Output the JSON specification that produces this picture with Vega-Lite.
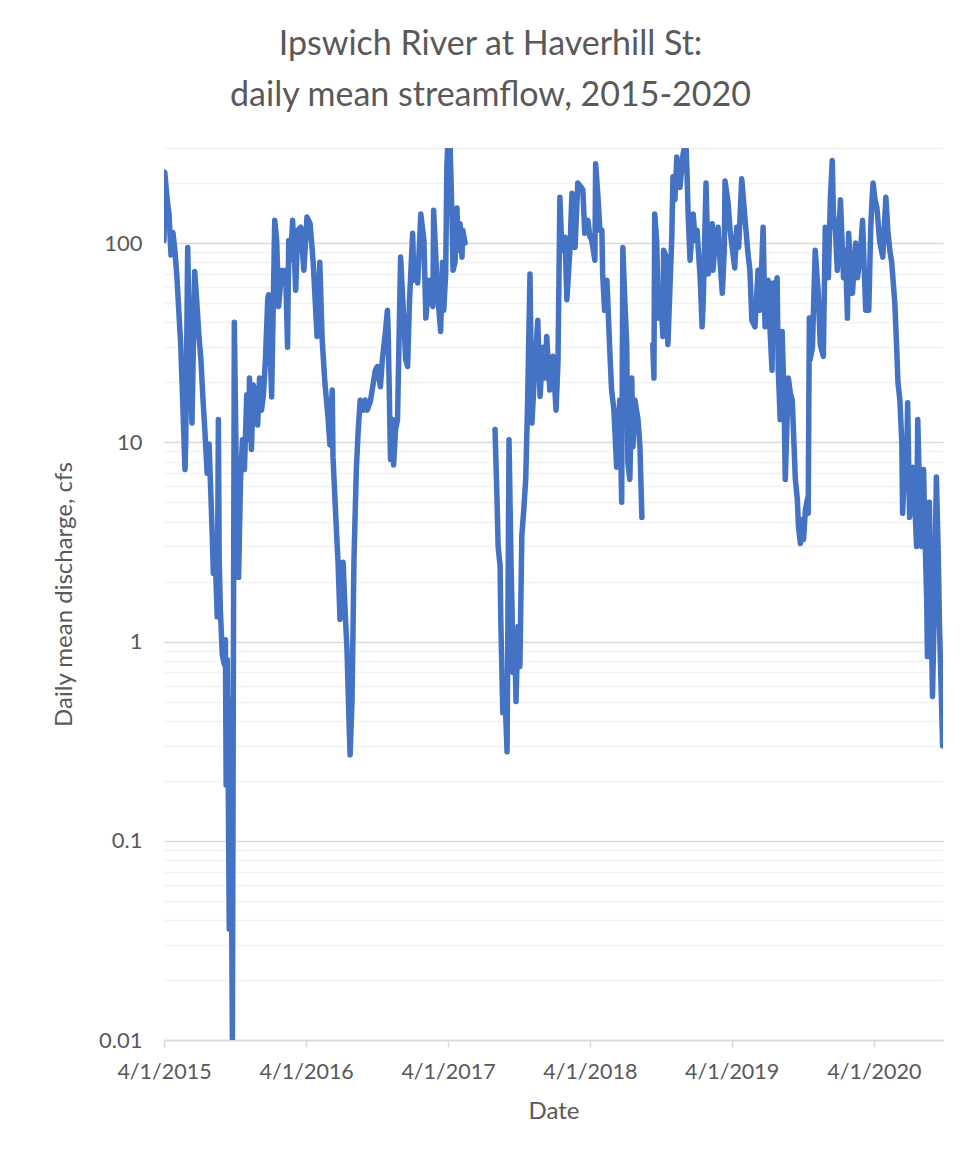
{
  "$schema": "https://vega.github.io/schema/vega-lite/v6.json",
  "autosize": {"type": "none"},
  "width": 779,
  "height": 892,
  "padding": {"left": 164, "top": 148, "right": 31, "bottom": 111},
  "background": "white",
  "title": {
    "text": ["Ipswich River at Haverhill St:", "daily mean streamflow, 2015-2020"],
    "font": "Lato",
    "fontSize": 34,
    "fontWeight": "normal",
    "color": "#595959",
    "anchor": "middle",
    "dx": -63,
    "lineHeight": 51,
    "offset": 24
  },
  "config": {
    "font": "Lato",
    "view": {"stroke": null}
  },
  "data": {
    "values": [
      {"date": "2015-04-01", "cfs": 103, "s": 1},
      {"date": "2015-04-03", "cfs": 227, "s": 1},
      {"date": "2015-04-08", "cfs": 174, "s": 1},
      {"date": "2015-04-14", "cfs": 138, "s": 1},
      {"date": "2015-04-19", "cfs": 87, "s": 1},
      {"date": "2015-04-24", "cfs": 113, "s": 1},
      {"date": "2015-04-29", "cfs": 92, "s": 1},
      {"date": "2015-05-04", "cfs": 69, "s": 1},
      {"date": "2015-05-09", "cfs": 46, "s": 1},
      {"date": "2015-05-14", "cfs": 31, "s": 1},
      {"date": "2015-05-19", "cfs": 16.3, "s": 1},
      {"date": "2015-05-25", "cfs": 7.3, "s": 1},
      {"date": "2015-05-27", "cfs": 10.3, "s": 1},
      {"date": "2015-06-01", "cfs": 95, "s": 1},
      {"date": "2015-06-06", "cfs": 29, "s": 1},
      {"date": "2015-06-12", "cfs": 12.5, "s": 1},
      {"date": "2015-06-19", "cfs": 72, "s": 1},
      {"date": "2015-06-24", "cfs": 52, "s": 1},
      {"date": "2015-06-30", "cfs": 34, "s": 1},
      {"date": "2015-07-05", "cfs": 26, "s": 1},
      {"date": "2015-07-10", "cfs": 16.9, "s": 1},
      {"date": "2015-07-15", "cfs": 11.6, "s": 1},
      {"date": "2015-07-21", "cfs": 7.0, "s": 1},
      {"date": "2015-07-26", "cfs": 9.8, "s": 1},
      {"date": "2015-07-31", "cfs": 5.2, "s": 1},
      {"date": "2015-08-03", "cfs": 3.5, "s": 1},
      {"date": "2015-08-06", "cfs": 2.2, "s": 1},
      {"date": "2015-08-11", "cfs": 2.6, "s": 1},
      {"date": "2015-08-16", "cfs": 1.33, "s": 1},
      {"date": "2015-08-19", "cfs": 13, "s": 1},
      {"date": "2015-08-21", "cfs": 2.6, "s": 1},
      {"date": "2015-08-24", "cfs": 1.45, "s": 1},
      {"date": "2015-08-29", "cfs": 0.86, "s": 1},
      {"date": "2015-09-03", "cfs": 0.77, "s": 1},
      {"date": "2015-09-06", "cfs": 1.02, "s": 1},
      {"date": "2015-09-08", "cfs": 0.19, "s": 1},
      {"date": "2015-09-11", "cfs": 0.81, "s": 1},
      {"date": "2015-09-16", "cfs": 0.036, "s": 1},
      {"date": "2015-09-19", "cfs": 0.51, "s": 1},
      {"date": "2015-09-24", "cfs": 0.01, "s": 1},
      {"date": "2015-09-29", "cfs": 40, "s": 1},
      {"date": "2015-10-04", "cfs": 7.3, "s": 1},
      {"date": "2015-10-10", "cfs": 2.1, "s": 1},
      {"date": "2015-10-15", "cfs": 6.5, "s": 1},
      {"date": "2015-10-20", "cfs": 10.3, "s": 1},
      {"date": "2015-10-25", "cfs": 7.3, "s": 1},
      {"date": "2015-10-31", "cfs": 17.3, "s": 1},
      {"date": "2015-11-05", "cfs": 10.3, "s": 1},
      {"date": "2015-11-07", "cfs": 21, "s": 1},
      {"date": "2015-11-12", "cfs": 9.2, "s": 1},
      {"date": "2015-11-17", "cfs": 19.4, "s": 1},
      {"date": "2015-11-22", "cfs": 17.3, "s": 1},
      {"date": "2015-11-28", "cfs": 12.2, "s": 1},
      {"date": "2015-12-03", "cfs": 21, "s": 1},
      {"date": "2015-12-08", "cfs": 14.5, "s": 1},
      {"date": "2015-12-13", "cfs": 17.3, "s": 1},
      {"date": "2015-12-18", "cfs": 26, "s": 1},
      {"date": "2015-12-24", "cfs": 52, "s": 1},
      {"date": "2015-12-26", "cfs": 55, "s": 1},
      {"date": "2016-01-03", "cfs": 16.9, "s": 1},
      {"date": "2016-01-11", "cfs": 130, "s": 1},
      {"date": "2016-01-16", "cfs": 103, "s": 1},
      {"date": "2016-01-21", "cfs": 48, "s": 1},
      {"date": "2016-01-29", "cfs": 73, "s": 1},
      {"date": "2016-02-03", "cfs": 63, "s": 1},
      {"date": "2016-02-08", "cfs": 73, "s": 1},
      {"date": "2016-02-13", "cfs": 30, "s": 1},
      {"date": "2016-02-16", "cfs": 103, "s": 1},
      {"date": "2016-02-21", "cfs": 82, "s": 1},
      {"date": "2016-02-26", "cfs": 130, "s": 1},
      {"date": "2016-03-05", "cfs": 58, "s": 1},
      {"date": "2016-03-10", "cfs": 116, "s": 1},
      {"date": "2016-03-18", "cfs": 120, "s": 1},
      {"date": "2016-03-26", "cfs": 73, "s": 1},
      {"date": "2016-04-03", "cfs": 135, "s": 1},
      {"date": "2016-04-11", "cfs": 125, "s": 1},
      {"date": "2016-04-19", "cfs": 80, "s": 1},
      {"date": "2016-04-24", "cfs": 52, "s": 1},
      {"date": "2016-04-29", "cfs": 34, "s": 1},
      {"date": "2016-05-06", "cfs": 80, "s": 1},
      {"date": "2016-05-12", "cfs": 33, "s": 1},
      {"date": "2016-05-19", "cfs": 20, "s": 1},
      {"date": "2016-05-27", "cfs": 13.5, "s": 1},
      {"date": "2016-06-01", "cfs": 9.7, "s": 1},
      {"date": "2016-06-07", "cfs": 18.3, "s": 1},
      {"date": "2016-06-09", "cfs": 8.4, "s": 1},
      {"date": "2016-06-14", "cfs": 5.2, "s": 1},
      {"date": "2016-06-19", "cfs": 3.25, "s": 1},
      {"date": "2016-06-22", "cfs": 2.5, "s": 1},
      {"date": "2016-06-27", "cfs": 1.29, "s": 1},
      {"date": "2016-07-02", "cfs": 2.2, "s": 1},
      {"date": "2016-07-05", "cfs": 2.5, "s": 1},
      {"date": "2016-07-10", "cfs": 1.45, "s": 1},
      {"date": "2016-07-15", "cfs": 0.91, "s": 1},
      {"date": "2016-07-20", "cfs": 0.41, "s": 1},
      {"date": "2016-07-23", "cfs": 0.27, "s": 1},
      {"date": "2016-07-28", "cfs": 0.51, "s": 1},
      {"date": "2016-08-02", "cfs": 2.6, "s": 1},
      {"date": "2016-08-08", "cfs": 7.3, "s": 1},
      {"date": "2016-08-13", "cfs": 11.6, "s": 1},
      {"date": "2016-08-18", "cfs": 16.3, "s": 1},
      {"date": "2016-08-26", "cfs": 14.5, "s": 1},
      {"date": "2016-08-31", "cfs": 16.3, "s": 1},
      {"date": "2016-09-05", "cfs": 14.5, "s": 1},
      {"date": "2016-09-13", "cfs": 16, "s": 1},
      {"date": "2016-09-21", "cfs": 20, "s": 1},
      {"date": "2016-09-26", "cfs": 23, "s": 1},
      {"date": "2016-10-01", "cfs": 24, "s": 1},
      {"date": "2016-10-09", "cfs": 19, "s": 1},
      {"date": "2016-10-14", "cfs": 26, "s": 1},
      {"date": "2016-10-22", "cfs": 36, "s": 1},
      {"date": "2016-10-27", "cfs": 46, "s": 1},
      {"date": "2016-10-29", "cfs": 36, "s": 1},
      {"date": "2016-11-04", "cfs": 8.2, "s": 1},
      {"date": "2016-11-09", "cfs": 13, "s": 1},
      {"date": "2016-11-12", "cfs": 7.7, "s": 1},
      {"date": "2016-11-17", "cfs": 11.6, "s": 1},
      {"date": "2016-11-22", "cfs": 13, "s": 1},
      {"date": "2016-11-30", "cfs": 85, "s": 1},
      {"date": "2016-12-08", "cfs": 42, "s": 1},
      {"date": "2016-12-13", "cfs": 26, "s": 1},
      {"date": "2016-12-18", "cfs": 24, "s": 1},
      {"date": "2016-12-23", "cfs": 52, "s": 1},
      {"date": "2016-12-31", "cfs": 112, "s": 1},
      {"date": "2017-01-03", "cfs": 65, "s": 1},
      {"date": "2017-01-08", "cfs": 82, "s": 1},
      {"date": "2017-01-13", "cfs": 63, "s": 1},
      {"date": "2017-01-21", "cfs": 140, "s": 1},
      {"date": "2017-01-29", "cfs": 103, "s": 1},
      {"date": "2017-02-03", "cfs": 42, "s": 1},
      {"date": "2017-02-11", "cfs": 65, "s": 1},
      {"date": "2017-02-16", "cfs": 52, "s": 1},
      {"date": "2017-02-21", "cfs": 48, "s": 1},
      {"date": "2017-02-23", "cfs": 146, "s": 1},
      {"date": "2017-03-01", "cfs": 82, "s": 1},
      {"date": "2017-03-06", "cfs": 54, "s": 1},
      {"date": "2017-03-13", "cfs": 36, "s": 1},
      {"date": "2017-03-18", "cfs": 80, "s": 1},
      {"date": "2017-03-21", "cfs": 46, "s": 1},
      {"date": "2017-03-26", "cfs": 70, "s": 1},
      {"date": "2017-03-29", "cfs": 240, "s": 1},
      {"date": "2017-04-01", "cfs": 330, "s": 1},
      {"date": "2017-04-06", "cfs": 330, "s": 1},
      {"date": "2017-04-11", "cfs": 140, "s": 1},
      {"date": "2017-04-14", "cfs": 73, "s": 1},
      {"date": "2017-04-19", "cfs": 80, "s": 1},
      {"date": "2017-04-24", "cfs": 150, "s": 1},
      {"date": "2017-04-27", "cfs": 92, "s": 1},
      {"date": "2017-05-02", "cfs": 125, "s": 1},
      {"date": "2017-05-07", "cfs": 85, "s": 1},
      {"date": "2017-05-09", "cfs": 116, "s": 1},
      {"date": "2017-05-15", "cfs": 100, "s": 1},
      {"date": "2017-07-31", "cfs": 11.6, "s": 2},
      {"date": "2017-08-05", "cfs": 5.3, "s": 2},
      {"date": "2017-08-08", "cfs": 3.0, "s": 2},
      {"date": "2017-08-13", "cfs": 2.4, "s": 2},
      {"date": "2017-08-15", "cfs": 1.24, "s": 2},
      {"date": "2017-08-20", "cfs": 0.44, "s": 2},
      {"date": "2017-08-26", "cfs": 0.51, "s": 2},
      {"date": "2017-08-31", "cfs": 0.28, "s": 2},
      {"date": "2017-09-05", "cfs": 10.3, "s": 2},
      {"date": "2017-09-10", "cfs": 2.6, "s": 2},
      {"date": "2017-09-13", "cfs": 1.4, "s": 2},
      {"date": "2017-09-15", "cfs": 0.7, "s": 2},
      {"date": "2017-09-20", "cfs": 1.02, "s": 2},
      {"date": "2017-09-23", "cfs": 0.5, "s": 2},
      {"date": "2017-09-28", "cfs": 1.19, "s": 2},
      {"date": "2017-10-03", "cfs": 0.75, "s": 2},
      {"date": "2017-10-08", "cfs": 3.4, "s": 2},
      {"date": "2017-10-13", "cfs": 4.6, "s": 2},
      {"date": "2017-10-18", "cfs": 6.5, "s": 2},
      {"date": "2017-10-23", "cfs": 16.3, "s": 2},
      {"date": "2017-10-29", "cfs": 70, "s": 2},
      {"date": "2017-11-03", "cfs": 12.5, "s": 2},
      {"date": "2017-11-11", "cfs": 25, "s": 2},
      {"date": "2017-11-18", "cfs": 41, "s": 2},
      {"date": "2017-11-24", "cfs": 17, "s": 2},
      {"date": "2017-12-01", "cfs": 30, "s": 2},
      {"date": "2017-12-06", "cfs": 21, "s": 2},
      {"date": "2017-12-11", "cfs": 34, "s": 2},
      {"date": "2017-12-19", "cfs": 18.3, "s": 2},
      {"date": "2017-12-27", "cfs": 27, "s": 2},
      {"date": "2018-01-04", "cfs": 14.5, "s": 2},
      {"date": "2018-01-09", "cfs": 25, "s": 2},
      {"date": "2018-01-14", "cfs": 170, "s": 2},
      {"date": "2018-01-19", "cfs": 92, "s": 2},
      {"date": "2018-01-27", "cfs": 107, "s": 2},
      {"date": "2018-02-01", "cfs": 52, "s": 2},
      {"date": "2018-02-09", "cfs": 95, "s": 2},
      {"date": "2018-02-14", "cfs": 178, "s": 2},
      {"date": "2018-02-22", "cfs": 95, "s": 2},
      {"date": "2018-03-01", "cfs": 200, "s": 2},
      {"date": "2018-03-06", "cfs": 195, "s": 2},
      {"date": "2018-03-14", "cfs": 185, "s": 2},
      {"date": "2018-03-19", "cfs": 112, "s": 2},
      {"date": "2018-03-27", "cfs": 130, "s": 2},
      {"date": "2018-04-01", "cfs": 108, "s": 2},
      {"date": "2018-04-06", "cfs": 103, "s": 2},
      {"date": "2018-04-14", "cfs": 82, "s": 2},
      {"date": "2018-04-16", "cfs": 250, "s": 2},
      {"date": "2018-04-22", "cfs": 170, "s": 2},
      {"date": "2018-04-27", "cfs": 116, "s": 2},
      {"date": "2018-05-02", "cfs": 116, "s": 2},
      {"date": "2018-05-04", "cfs": 70, "s": 2},
      {"date": "2018-05-09", "cfs": 46, "s": 2},
      {"date": "2018-05-15", "cfs": 65, "s": 2},
      {"date": "2018-05-22", "cfs": 30, "s": 2},
      {"date": "2018-05-27", "cfs": 18.3, "s": 2},
      {"date": "2018-06-02", "cfs": 14.5, "s": 2},
      {"date": "2018-06-09", "cfs": 7.5, "s": 2},
      {"date": "2018-06-17", "cfs": 16.3, "s": 2},
      {"date": "2018-06-22", "cfs": 5.0, "s": 2},
      {"date": "2018-06-25", "cfs": 95, "s": 2},
      {"date": "2018-06-30", "cfs": 52, "s": 2},
      {"date": "2018-07-05", "cfs": 31, "s": 2},
      {"date": "2018-07-08", "cfs": 7.9, "s": 2},
      {"date": "2018-07-13", "cfs": 6.5, "s": 2},
      {"date": "2018-07-18", "cfs": 21, "s": 2},
      {"date": "2018-07-21", "cfs": 9.5, "s": 2},
      {"date": "2018-07-26", "cfs": 16.3, "s": 2},
      {"date": "2018-08-03", "cfs": 13, "s": 2},
      {"date": "2018-08-08", "cfs": 9.5, "s": 2},
      {"date": "2018-08-13", "cfs": 4.2, "s": 2},
      {"date": "2018-09-10", "cfs": 31, "s": 3},
      {"date": "2018-09-13", "cfs": 21, "s": 3},
      {"date": "2018-09-15", "cfs": 140, "s": 3},
      {"date": "2018-09-20", "cfs": 103, "s": 3},
      {"date": "2018-09-25", "cfs": 42, "s": 3},
      {"date": "2018-10-01", "cfs": 52, "s": 3},
      {"date": "2018-10-06", "cfs": 34, "s": 3},
      {"date": "2018-10-08", "cfs": 92, "s": 3},
      {"date": "2018-10-13", "cfs": 87, "s": 3},
      {"date": "2018-10-19", "cfs": 31, "s": 3},
      {"date": "2018-10-24", "cfs": 58, "s": 3},
      {"date": "2018-10-29", "cfs": 107, "s": 3},
      {"date": "2018-11-01", "cfs": 215, "s": 3},
      {"date": "2018-11-06", "cfs": 165, "s": 3},
      {"date": "2018-11-11", "cfs": 270, "s": 3},
      {"date": "2018-11-19", "cfs": 190, "s": 3},
      {"date": "2018-11-27", "cfs": 280, "s": 3},
      {"date": "2018-12-02", "cfs": 310, "s": 3},
      {"date": "2018-12-05", "cfs": 295, "s": 3},
      {"date": "2018-12-07", "cfs": 230, "s": 3},
      {"date": "2018-12-10", "cfs": 140, "s": 3},
      {"date": "2018-12-15", "cfs": 82, "s": 3},
      {"date": "2018-12-23", "cfs": 140, "s": 3},
      {"date": "2018-12-28", "cfs": 103, "s": 3},
      {"date": "2019-01-02", "cfs": 116, "s": 3},
      {"date": "2019-01-10", "cfs": 67, "s": 3},
      {"date": "2019-01-15", "cfs": 38, "s": 3},
      {"date": "2019-01-18", "cfs": 52, "s": 3},
      {"date": "2019-01-25", "cfs": 200, "s": 3},
      {"date": "2019-01-31", "cfs": 70, "s": 3},
      {"date": "2019-02-05", "cfs": 103, "s": 3},
      {"date": "2019-02-10", "cfs": 125, "s": 3},
      {"date": "2019-02-12", "cfs": 73, "s": 3},
      {"date": "2019-02-18", "cfs": 103, "s": 3},
      {"date": "2019-02-25", "cfs": 120, "s": 3},
      {"date": "2019-03-02", "cfs": 82, "s": 3},
      {"date": "2019-03-08", "cfs": 56, "s": 3},
      {"date": "2019-03-13", "cfs": 92, "s": 3},
      {"date": "2019-03-15", "cfs": 205, "s": 3},
      {"date": "2019-03-23", "cfs": 158, "s": 3},
      {"date": "2019-03-28", "cfs": 116, "s": 3},
      {"date": "2019-04-01", "cfs": 100, "s": 3},
      {"date": "2019-04-09", "cfs": 75, "s": 3},
      {"date": "2019-04-14", "cfs": 120, "s": 3},
      {"date": "2019-04-19", "cfs": 95, "s": 3},
      {"date": "2019-04-27", "cfs": 210, "s": 3},
      {"date": "2019-05-05", "cfs": 135, "s": 3},
      {"date": "2019-05-13", "cfs": 89, "s": 3},
      {"date": "2019-05-18", "cfs": 73, "s": 3},
      {"date": "2019-05-23", "cfs": 41, "s": 3},
      {"date": "2019-05-31", "cfs": 38, "s": 3},
      {"date": "2019-06-08", "cfs": 73, "s": 3},
      {"date": "2019-06-13", "cfs": 46, "s": 3},
      {"date": "2019-06-21", "cfs": 120, "s": 3},
      {"date": "2019-06-26", "cfs": 38, "s": 3},
      {"date": "2019-07-04", "cfs": 65, "s": 3},
      {"date": "2019-07-09", "cfs": 36, "s": 3},
      {"date": "2019-07-14", "cfs": 23, "s": 3},
      {"date": "2019-07-17", "cfs": 63, "s": 3},
      {"date": "2019-07-22", "cfs": 52, "s": 3},
      {"date": "2019-07-27", "cfs": 67, "s": 3},
      {"date": "2019-07-30", "cfs": 23, "s": 3},
      {"date": "2019-08-04", "cfs": 13, "s": 3},
      {"date": "2019-08-09", "cfs": 36, "s": 3},
      {"date": "2019-08-14", "cfs": 16.3, "s": 3},
      {"date": "2019-08-17", "cfs": 6.5, "s": 3},
      {"date": "2019-08-25", "cfs": 21, "s": 3},
      {"date": "2019-08-30", "cfs": 17.7, "s": 3},
      {"date": "2019-09-04", "cfs": 16.3, "s": 3},
      {"date": "2019-09-12", "cfs": 6.5, "s": 3},
      {"date": "2019-09-17", "cfs": 5.2, "s": 3},
      {"date": "2019-09-20", "cfs": 3.8, "s": 3},
      {"date": "2019-09-25", "cfs": 3.1, "s": 3},
      {"date": "2019-09-30", "cfs": 4.1, "s": 3},
      {"date": "2019-10-03", "cfs": 3.25, "s": 3},
      {"date": "2019-10-08", "cfs": 4.6, "s": 3},
      {"date": "2019-10-13", "cfs": 5.2, "s": 3},
      {"date": "2019-10-15", "cfs": 4.4, "s": 3},
      {"date": "2019-10-18", "cfs": 42, "s": 3},
      {"date": "2019-10-20", "cfs": 26, "s": 3},
      {"date": "2019-10-26", "cfs": 30, "s": 3},
      {"date": "2019-11-02", "cfs": 92, "s": 3},
      {"date": "2019-11-10", "cfs": 56, "s": 3},
      {"date": "2019-11-15", "cfs": 31, "s": 3},
      {"date": "2019-11-23", "cfs": 27, "s": 3},
      {"date": "2019-11-28", "cfs": 120, "s": 3},
      {"date": "2019-12-06", "cfs": 67, "s": 3},
      {"date": "2019-12-11", "cfs": 165, "s": 3},
      {"date": "2019-12-16", "cfs": 260, "s": 3},
      {"date": "2019-12-19", "cfs": 140, "s": 3},
      {"date": "2019-12-24", "cfs": 116, "s": 3},
      {"date": "2019-12-29", "cfs": 73, "s": 3},
      {"date": "2020-01-06", "cfs": 165, "s": 3},
      {"date": "2020-01-14", "cfs": 67, "s": 3},
      {"date": "2020-01-19", "cfs": 92, "s": 3},
      {"date": "2020-01-24", "cfs": 42, "s": 3},
      {"date": "2020-01-27", "cfs": 112, "s": 3},
      {"date": "2020-02-01", "cfs": 73, "s": 3},
      {"date": "2020-02-06", "cfs": 56, "s": 3},
      {"date": "2020-02-14", "cfs": 100, "s": 3},
      {"date": "2020-02-19", "cfs": 67, "s": 3},
      {"date": "2020-02-27", "cfs": 92, "s": 3},
      {"date": "2020-03-03", "cfs": 130, "s": 3},
      {"date": "2020-03-11", "cfs": 46, "s": 3},
      {"date": "2020-03-19", "cfs": 46, "s": 3},
      {"date": "2020-03-24", "cfs": 120, "s": 3},
      {"date": "2020-03-27", "cfs": 160, "s": 3},
      {"date": "2020-03-30", "cfs": 200, "s": 3},
      {"date": "2020-04-04", "cfs": 165, "s": 3},
      {"date": "2020-04-09", "cfs": 150, "s": 3},
      {"date": "2020-04-16", "cfs": 102, "s": 3},
      {"date": "2020-04-24", "cfs": 85, "s": 3},
      {"date": "2020-05-02", "cfs": 170, "s": 3},
      {"date": "2020-05-07", "cfs": 116, "s": 3},
      {"date": "2020-05-12", "cfs": 92, "s": 3},
      {"date": "2020-05-17", "cfs": 80, "s": 3},
      {"date": "2020-05-25", "cfs": 50, "s": 3},
      {"date": "2020-05-30", "cfs": 29, "s": 3},
      {"date": "2020-06-02", "cfs": 20, "s": 3},
      {"date": "2020-06-07", "cfs": 16.3, "s": 3},
      {"date": "2020-06-12", "cfs": 10, "s": 3},
      {"date": "2020-06-14", "cfs": 4.4, "s": 3},
      {"date": "2020-06-19", "cfs": 7.3, "s": 3},
      {"date": "2020-06-25", "cfs": 9.2, "s": 3},
      {"date": "2020-06-27", "cfs": 15.8, "s": 3},
      {"date": "2020-07-02", "cfs": 4.2, "s": 3},
      {"date": "2020-07-07", "cfs": 6.5, "s": 3},
      {"date": "2020-07-10", "cfs": 7.5, "s": 3},
      {"date": "2020-07-15", "cfs": 5.2, "s": 3},
      {"date": "2020-07-20", "cfs": 3.0, "s": 3},
      {"date": "2020-07-23", "cfs": 13, "s": 3},
      {"date": "2020-07-28", "cfs": 5.2, "s": 3},
      {"date": "2020-08-02", "cfs": 3.0, "s": 3},
      {"date": "2020-08-07", "cfs": 7.3, "s": 3},
      {"date": "2020-08-10", "cfs": 3.8, "s": 3},
      {"date": "2020-08-15", "cfs": 1.62, "s": 3},
      {"date": "2020-08-17", "cfs": 0.84, "s": 3},
      {"date": "2020-08-22", "cfs": 5.0, "s": 3},
      {"date": "2020-08-25", "cfs": 2.05, "s": 3},
      {"date": "2020-08-30", "cfs": 0.53, "s": 3},
      {"date": "2020-09-04", "cfs": 1.62, "s": 3},
      {"date": "2020-09-09", "cfs": 6.7, "s": 3},
      {"date": "2020-09-14", "cfs": 2.6, "s": 3},
      {"date": "2020-09-17", "cfs": 1.19, "s": 3},
      {"date": "2020-09-22", "cfs": 0.51, "s": 3},
      {"date": "2020-09-25", "cfs": 0.3, "s": 3}
    ]
  },
  "mark": {
    "type": "line",
    "color": "#4472C4",
    "strokeWidth": 5.5,
    "strokeJoin": "round",
    "strokeCap": "round",
    "clip": true
  },
  "encoding": {
    "x": {
      "field": "date",
      "type": "temporal",
      "scale": {
        "type": "utc",
        "domain": [
          {"year": 2015, "month": 4, "date": 1, "utc": true},
          {"year": 2020, "month": 9, "date": 26, "utc": true}
        ]
      },
      "axis": {
        "title": "Date",
        "values": [
          {"year": 2015, "month": 4, "date": 1, "utc": true},
          {"year": 2016, "month": 4, "date": 1, "utc": true},
          {"year": 2017, "month": 4, "date": 1, "utc": true},
          {"year": 2018, "month": 4, "date": 1, "utc": true},
          {"year": 2019, "month": 4, "date": 1, "utc": true},
          {"year": 2020, "month": 4, "date": 1, "utc": true}
        ],
        "labelExpr": "utcFormat(datum.value, '%-m/%-d/%Y')",
        "grid": false,
        "domainColor": "#D9D9D9",
        "domainWidth": 1.5,
        "tickColor": "#D9D9D9",
        "tickWidth": 1.5,
        "tickSize": 7,
        "labelPadding": 14,
        "labelFont": "Lato",
        "labelFontSize": 21.5,
        "labelColor": "#595959",
        "labelFlush": false,
        "labelOverlap": false,
        "titleFont": "Lato",
        "titleFontSize": 24,
        "titleFontWeight": "normal",
        "titleColor": "#595959",
        "titleY": 78,
        "titleBaseline": "alphabetic"
      }
    },
    "y": {
      "field": "cfs",
      "type": "quantitative",
      "scale": {"type": "log", "domain": [0.01, 300], "nice": false},
      "axis": {
        "title": "Daily mean discharge, cfs",
        "values": [0.01, 0.02, 0.03, 0.04, 0.05, 0.06, 0.07, 0.08, 0.09, 0.1, 0.2, 0.3, 0.4, 0.5, 0.6, 0.7, 0.8, 0.9, 1, 2, 3, 4, 5, 6, 7, 8, 9, 10, 20, 30, 40, 50, 60, 70, 80, 90, 100, 200, 300],
        "format": "~g",
        "labelExpr": "abs(log(datum.value)/LN10 - round(log(datum.value)/LN10)) < 0.001 ? datum.label : ''",
        "grid": true,
        "gridColor": {
          "condition": {"test": "abs(log(datum.value)/LN10 - round(log(datum.value)/LN10)) < 0.001", "value": "#D9D9D9"},
          "value": "#F2F2F2"
        },
        "gridWidth": 1.5,
        "ticks": false,
        "domain": false,
        "labelPadding": 22,
        "labelFont": "Lato",
        "labelFontSize": 22,
        "labelColor": "#595959",
        "labelOverlap": false,
        "titleFont": "Lato",
        "titleFontSize": 24,
        "titleFontWeight": "normal",
        "titleColor": "#595959",
        "titleX": -88,
        "titleBaseline": "bottom"
      }
    },
    "detail": {"field": "s"}
  }
}
